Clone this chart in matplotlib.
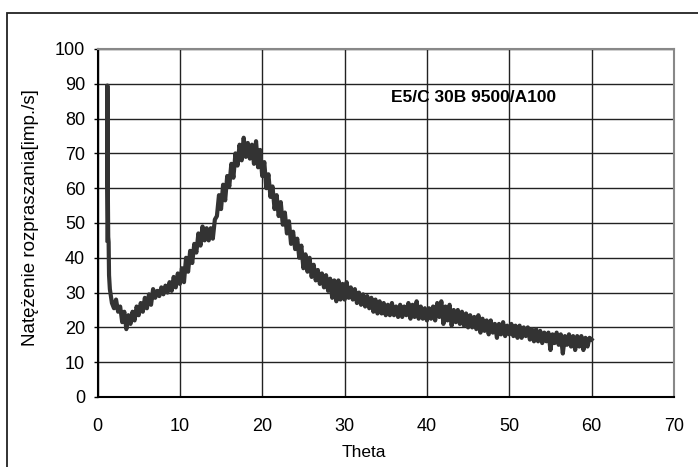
import matplotlib.pyplot as plt
import numpy as np
from matplotlib.patches import Rectangle

plt.rcParams['font.family'] = ['Liberation Sans', 'DejaVu Sans']

# start of the scan (spike at low angle)
theta_start = [1.2, 1.2, 1.25, 1.3, 1.35, 1.4]
int_start = [45, 89.5, 60, 46, 44.5, 35]

# main scan, read every 0.25 deg from 1.5 to 60
int_main = [
    31, 27, 25.5, 28,
    24.5, 26, 21.5, 24.5,
    19.5, 23.5, 21, 24.5,
    22, 26, 23.5, 27,
    24.5, 28.5, 25.5, 29.5,
    26.5, 31, 28.5, 30.5,
    29, 31.5, 29.5, 32,
    30, 33, 30.5, 34.5,
    31.5, 35.5, 32.5, 37,
    33, 40, 36, 42,
    38.5, 44, 41.5, 47,
    43.5, 49, 45, 48.5,
    45, 48.5, 45.5, 51,
    52, 58, 54, 61,
    56.5, 63.5, 60.5, 67,
    63, 70, 66.5, 72.5,
    68, 74.5, 69, 73,
    68.5, 72.5, 67, 73.5,
    66, 71, 63.5, 67.5,
    60, 64, 57.5, 60.5,
    54, 58, 52, 56,
    49.5, 53, 47, 50.5,
    44, 47.5, 42.5, 45.5,
    40, 43.5, 37, 41,
    36, 40, 34.5, 38,
    33.5, 36.5, 32.5, 35.5,
    31.5, 35, 30.5, 34,
    28.5, 33.5, 27.5, 33.5,
    28, 32.5, 28, 33,
    28.5, 31.5, 28, 31,
    27, 30, 26.5, 29.5,
    26, 29, 25.5, 28.5,
    24.5, 28, 24, 27.5,
    24, 27, 23.5, 26.5,
    23.5, 27, 23.5, 26,
    23, 26.5, 23, 26,
    23.5, 27, 22.5, 26.5,
    23, 27.5, 22.5, 26,
    22.5, 25.5, 22, 25.5,
    22.5, 26, 22, 27,
    23, 27.5, 21, 26,
    22, 26.5, 20.5, 25,
    21.5, 25, 21, 24.5,
    20.5, 24, 20, 23.5,
    20, 23, 19.5, 23.5,
    18.5, 22.5, 19, 22,
    18, 22, 18.5, 21,
    17, 21, 18, 21.5,
    17.5, 20.5, 18, 21,
    17.5, 20.5, 17, 20.5,
    17, 20, 17.5, 20,
    16.5, 19.5, 16, 19.5,
    16, 19, 15.5, 18.5,
    16, 18.5, 13.5, 18,
    15.5, 18.5, 15, 18,
    12.5, 17.5, 15, 18,
    14.5, 17.5, 13.5, 17.5,
    14.5, 17.5, 13.5, 17,
    14.5, 17, 16.5,
]
theta_main = 1.5 + 0.25 * np.arange(len(int_main))

theta = np.concatenate([theta_start, theta_main])
intensity = np.concatenate([int_start, int_main])

fig = plt.figure(figsize=(6.98, 4.67), dpi=100)
ax = fig.add_axes([0.1397, 0.1499, 0.8259, 0.7452])

# frame around the whole chart
fig.patches.append(Rectangle((0.010, -0.05), 1.2, 0.972 + 0.05, transform=fig.transFigure,
                             fill=False, edgecolor='#222222', linewidth=1.3, clip_on=False))

ax.plot(theta, intensity, color='#333333', linewidth=3.0, solid_joinstyle='round')

ax.set_xlim(0, 70)
ax.set_ylim(0, 100)
ax.set_xticks(np.arange(0, 71, 10))
ax.set_yticks(np.arange(0, 101, 10))
ax.grid(True, color='#222222', linewidth=1.0)
ax.set_axisbelow(True)
ax.tick_params(axis='y', labelsize=13, length=3, width=1, pad=6, colors='black')
ax.tick_params(axis='x', labelsize=13, length=0, pad=15, colors='black')

for s in ['top', 'right']:
    ax.spines[s].set_color('#888888')
    ax.spines[s].set_linewidth(1.5)
for s in ['left', 'bottom']:
    ax.spines[s].set_color('black')
    ax.spines[s].set_linewidth(1.5)

fig.text(0.044, 0.535, 'Natężenie rozpraszania[imp./s]', fontsize=13.5, rotation=90,
         ha='center', va='center')
fig.text(0.522, 0.015, 'Theta', fontsize=12.5, ha='center', va='bottom')

ax.text(35.6, 86.2, 'E5/C 30B 9500/A100', fontsize=12.5, fontweight='bold', ha='left', va='center')

fig.savefig('out.png', dpi=100)
